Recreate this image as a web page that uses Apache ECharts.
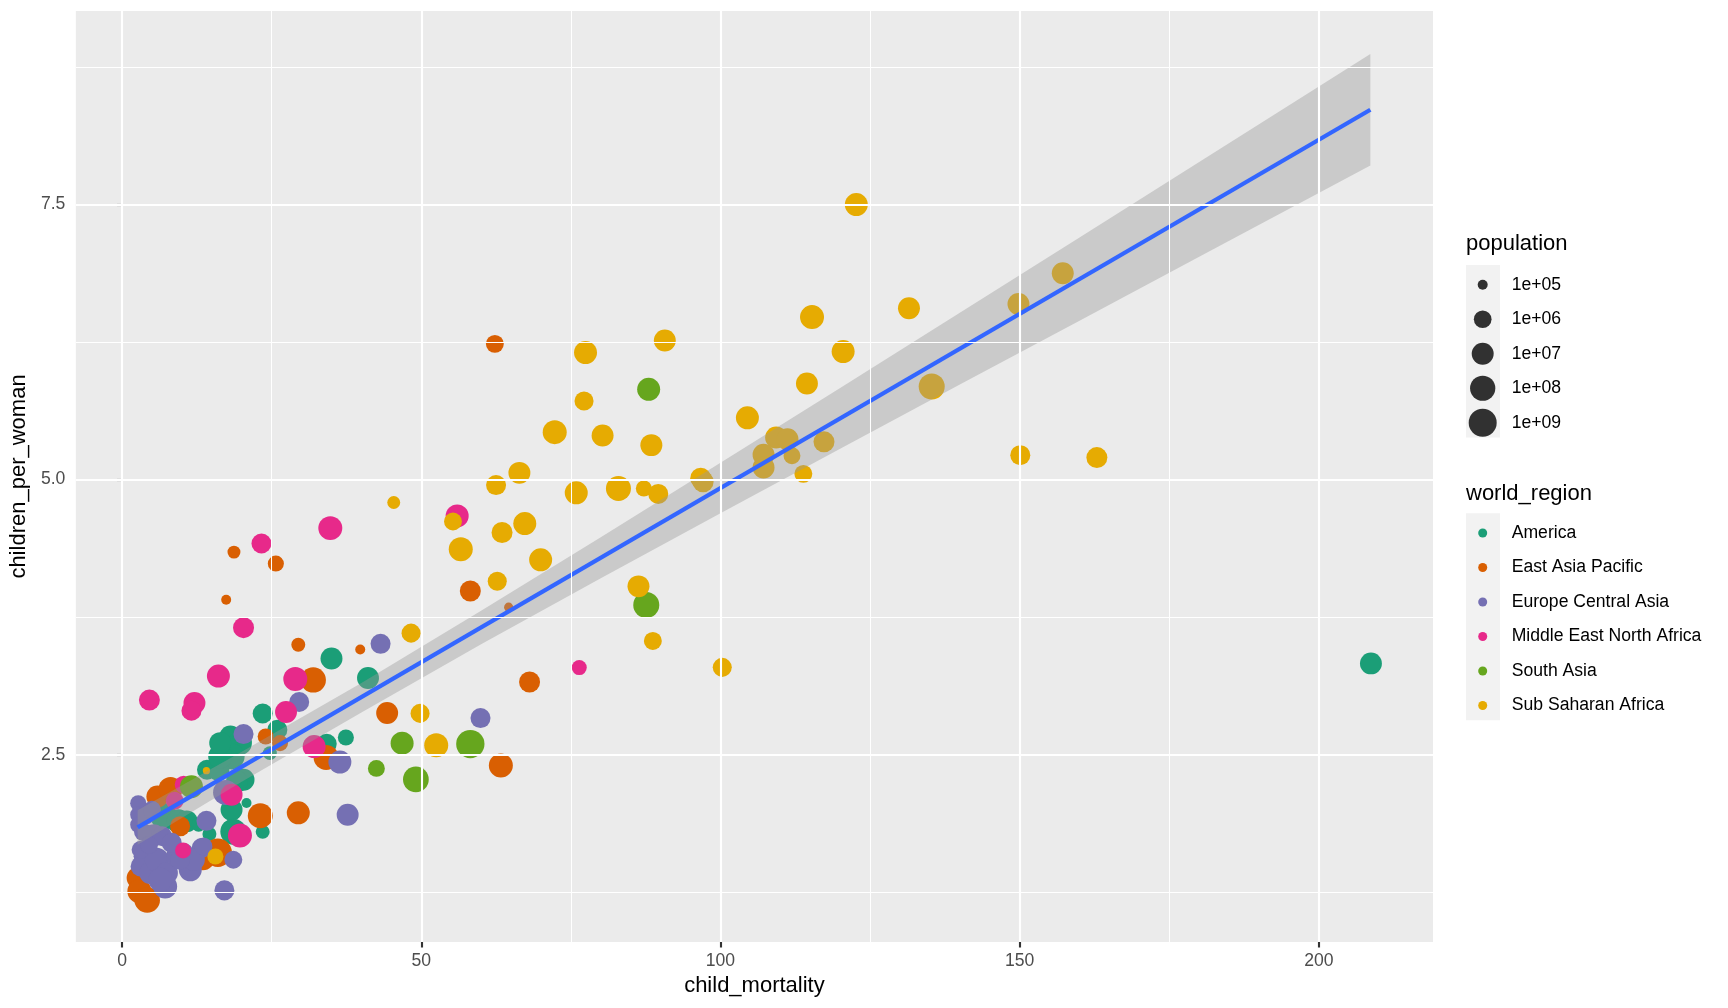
<!DOCTYPE html>
<html><head><meta charset="utf-8">
<script src="https://cdn.jsdelivr.net/npm/echarts@6/dist/echarts.min.js"></script>
<style>html,body{margin:0;padding:0;background:#fff}#c{width:1728px;height:1008px}</style>
</head><body><div id="c"></div><script>
// ---------- data ----------
const regions = ['America','East Asia Pacific','Europe Central Asia','Middle East North Africa','South Asia','Sub Saharan Africa'];
const regionColors = ['#1B9E77','#D95F02','#7570B3','#E7298A','#66A61E','#E6AB02'];

const americaX = [208.7,35.0,41.1,37.4,34.2,23.5,25.95,24.7,23.5,18.1,19.7,18.3,14.2,16.1,20.3,19.2,20.8,18.3,18.6,14.6,18.6,7.0,9.45,10.8,16.4,16.4,12.8,18.3];
const americaY = [3.33,3.375,3.197,2.657,2.60,2.875,2.727,2.515,1.80,2.666,2.606,2.485,2.364,2.364,2.273,2.258,2.061,2.0,1.8,1.78,1.53,1.94,1.895,1.895,2.485,2.606,1.864,1.82];
const americaPop = [1e7,1e7,1e7,5e5,3.2e6,3.2e6,3.2e6,2.4e5,2.4e5,1e7,4e7,1.9e8,3.2e6,1e7,1e7,1e7,1e5,1e7,1.9e8,2.4e5,1.4e5,3e8,4e7,1e7,4e7,1e7,2.4e5,3.2e6];

const eapX = [62.3,58.2,64.6,18.7,25.7,17.4,29.45,39.8,31.95,44.3,68.1,63.3,34.1,29.45,23.1,24.0,26.4,5.9,8.1,9.7,13.5,16.0,2.6,2.9,4.2];
const eapY = [6.233,3.988,3.841,4.341,4.237,3.908,3.499,3.457,3.18,2.879,3.161,2.403,2.476,1.973,1.946,2.666,2.606,2.12,2.19,1.85,1.56,1.61,1.38,1.26,1.18];
const eapPop = [1.1e6,5.6e6,9e4,1.8e5,5e5,1e5,2.4e5,1e5,1.1e8,1e7,5.6e6,4e7,8.5e7,2e7,8.5e7,5e5,5e5,1e7,4e7,3.2e6,4e7,1.4e9,1e7,4e7,1.3e8];

const ecaX = [43.2,59.9,36.4,37.7,29.6,14.1,17.3,20.3,17.1,18.6,2.7,2.7,2.7,5.3,6.7,3.6,3.1,4.7,5.8,7.2,7.5,9.2,11.4,10.3,13.3,12.0,3.1,6.4,9.7,13.6,4.0,3.5,5.0,8.3,4.5];
const ecaY = [3.508,2.833,2.434,1.955,2.979,1.90,2.158,2.688,1.268,1.546,2.06,1.955,1.864,1.77,1.76,1.577,1.486,1.426,1.546,1.304,1.426,1.577,1.455,1.607,1.653,1.546,1.637,1.365,1.546,1.667,1.95,1.80,2.0,1.70,1.68];
const ecaPop = [3.2e6,3.2e6,2e7,1e7,3.2e6,3.2e6,8.5e7,3.2e6,3.2e6,1.1e6,5e5,5e5,5e5,1e7,3.2e6,3.2e6,3.2e6,1e7,4e7,4e7,1e7,1e7,2e7,3.2e6,3.2e6,1e7,1.1e6,4e7,3.2e6,1.1e6,1.1e6,1.1e6,1.1e6,3.2e6,1.1e6];

const menaX = [56.0,34.8,23.3,20.3,16.1,4.57,12.1,11.6,28.95,27.4,32.1,19.7,18.3,10.3,8.8,10.2,76.4];
const menaY = [4.67,4.559,4.419,3.655,3.215,2.997,2.97,2.90,3.188,2.888,2.575,1.767,2.137,2.228,2.082,1.631,3.292];
const menaPop = [2e7,4e7,3.2e6,5.6e6,2e7,5.6e6,1e7,3.2e6,4e7,1e7,2e7,4e7,1e7,1.1e6,1.1e6,5e5,3.4e5];

const saX = [88.0,87.6,46.8,58.2,49.1,42.5,11.6];
const saY = [5.82,3.86,2.605,2.597,2.276,2.376,2.21];
const saPop = [2e7,1.9e8,2e7,1.3e9,1.5e8,7e5,2e7];

const ssaX = [122.7,157.2,149.8,131.5,115.3,120.5,90.7,77.45,114.45,135.3,104.5,77.2,72.3,80.3,88.45,109.3,111.2,117.3,107.2,107.2,111.95,113.85,150.1,162.9,96.7,97.1,66.4,62.5,75.9,82.95,87.2,89.6,55.3,63.5,67.3,56.6,69.95,62.7,86.3,88.7,100.3,45.4,48.3,49.8,52.5,14.1,15.6];
const ssaY = [7.498,6.875,6.596,6.557,6.476,6.163,6.263,6.154,5.873,5.845,5.561,5.713,5.431,5.40,5.313,5.382,5.367,5.343,5.225,5.11,5.216,5.052,5.222,5.2,5.013,4.98,5.061,4.95,4.88,4.919,4.919,4.87,4.619,4.519,4.6,4.368,4.271,4.076,4.03,3.534,3.294,4.792,3.605,2.876,2.586,2.355,1.576];
const ssaPop = [2e7,1e7,1e7,1e7,4e7,2e7,1e7,2e7,1e7,1.9e8,2e7,1.9e6,4e7,1e7,1e7,1e7,1e7,5.6e6,1e7,1e7,7e5,1.1e6,3.2e6,5.6e6,5.6e6,5.6e6,1e7,3.2e6,2e7,8.5e7,5e5,3.2e6,1.1e6,5.6e6,2e7,4e7,2e7,1.9e6,1e7,1.1e6,1.9e6,1.8e5,1.9e6,1.9e6,4e7,8e4,5e5];

const regionX = [americaX, eapX, ecaX, menaX, saX, ssaX];
const regionY = [americaY, eapY, ecaY, menaY, saY, ssaY];
const regionPop = [americaPop, eapPop, ecaPop, menaPop, saPop, ssaPop];

// linear fit line and its confidence band
const lineX = [2.6, 208.6];
const lineY = [1.84, 8.36];
const bandX = [2.6, 20, 40, 60, 80, 100, 120, 140, 160, 180, 208.6];
const bandLow = [1.683, 2.254, 2.885, 3.505, 4.104, 4.694, 5.280, 5.863, 6.444, 7.024, 7.853];
const bandHigh = [1.997, 2.528, 3.151, 3.809, 4.476, 5.152, 5.832, 6.515, 7.200, 7.886, 8.867];

// axes
const xTicks = [0, 50, 100, 150, 200];
const xMinor = [25, 75, 125, 175];
const yTicks = [2.5, 5.0, 7.5];
const yTickLabels = ['2.5', '5.0', '7.5'];
const yMinor = [1.25, 3.75, 6.25, 8.75];

// population legend
const sizeBreaks = [1e5, 1e6, 1e7, 1e8, 1e9];
const sizeLabels = ['1e+05', '1e+06', '1e+07', '1e+08', '1e+09'];

// ---------- chart ----------
const FONT = "'Liberation Sans', Arial, Helvetica, sans-serif";
function sizeOf(pop) {
  const t = Math.max(0, Math.min(1, (Math.log10(pop) - 4.9) / 4.25));
  return 4.35 * (1 + 5 * Math.sqrt(t)) + 2.3;
}

const PANEL = {left: 72, top: 11, width: 1361, height: 931};
const KEY_H = 34.5;
const LEG_SHIFT = 2.5;

const series = [];
// grid lines via markLine
const gridLines = [];
xTicks.forEach(v => gridLines.push({xAxis: v, lineStyle: {width: 2.13, color: '#ffffff', type: 'solid'}}));
xMinor.forEach(v => gridLines.push({xAxis: v, lineStyle: {width: 1.07, color: '#ffffff', type: 'solid'}}));
yTicks.forEach(v => gridLines.push({yAxis: v, lineStyle: {width: 2.13, color: '#ffffff', type: 'solid'}}));
yMinor.forEach(v => gridLines.push({yAxis: v, lineStyle: {width: 1.07, color: '#ffffff', type: 'solid'}}));
series.push({
  type: 'scatter', name: '__grid', data: [], z: 1, silent: true,
  markLine: {silent: true, symbol: ['none', 'none'], label: {show: false}, animation: false, data: gridLines}
});

regions.forEach((r, k) => {
  series.push({
    type: 'scatter', name: r, z: 2,
    symbol: 'circle',
    data: regionX[k].map((x, i) => [x, regionY[k][i], regionPop[k][i]]),
    symbolSize: v => sizeOf(v[2]),
    itemStyle: {color: regionColors[k], opacity: 1},
    emphasis: {disabled: true}
  });
});

sizeLabels.forEach((lab) => {
  series.push({type: 'scatter', name: lab, data: [], symbol: 'circle', itemStyle: {color: '#000000'}});
});

series.push({
  type: 'custom', name: '__band', z: 3, silent: true,
  data: [[bandX[0], bandLow[0]]],
  renderItem: (params, api) => {
    const pts = [];
    for (let i = 0; i < bandX.length; i++) pts.push(api.coord([bandX[i], bandHigh[i]]));
    for (let i = bandX.length - 1; i >= 0; i--) pts.push(api.coord([bandX[i], bandLow[i]]));
    return {type: 'polygon', shape: {points: pts}, style: {fill: 'rgba(153,153,153,0.4)'}};
  }
});
series.push({
  type: 'line', name: '__fit', z: 4, silent: true,
  data: lineX.map((x, i) => [x, lineY[i]]),
  showSymbol: false, symbol: 'none',
  lineStyle: {color: '#3366FF', width: 4.27}
});

const legends = [];
legends.push({
  data: regions, orient: 'vertical', left: 1478.2, top: 513.3 + LEG_SHIFT, padding: 0,
  itemWidth: 9, itemHeight: 9, itemGap: 0, selectedMode: false, icon: 'circle',
  textStyle: {fontSize: 17.6, lineHeight: KEY_H, color: '#000', fontFamily: FONT, padding: [0, 0, 0, 19.5]}
});
sizeBreaks.forEach((p, i) => {
  const d = sizeOf(p);
  legends.push({
    data: [sizeLabels[i]], orient: 'vertical', left: 1482.7 - d / 2, top: 265 + i * KEY_H + LEG_SHIFT, padding: 0,
    itemWidth: d, itemHeight: d, itemGap: 0, selectedMode: false, icon: 'circle',
    textStyle: {fontSize: 17.6, lineHeight: KEY_H, color: '#000', fontFamily: FONT, padding: [0, 0, 0, 24 - d / 2]}
  });
});

const option = {
  animation: false,
  backgroundColor: '#ffffff',
  textStyle: {fontFamily: FONT},
  grid: {left: PANEL.left, top: PANEL.top, width: PANEL.width, height: PANEL.height,
         show: true, backgroundColor: '#EBEBEB', borderWidth: 0},
  xAxis: {
    type: 'value', min: -7.72, max: 219.07,
    name: 'child_mortality', nameLocation: 'middle', nameGap: 31,
    nameTextStyle: {fontSize: 22, color: '#000', fontFamily: FONT},
    axisLine: {show: false}, splitLine: {show: false},
    axisTick: {show: true, length: 5.5, lineStyle: {color: '#333333', width: 2.13}, customValues: xTicks},
    axisLabel: {customValues: xTicks, fontSize: 17.6, color: '#4D4D4D', margin: 10, fontFamily: FONT}
  },
  yAxis: {
    type: 'value', min: 0.799, max: 9.257,
    name: 'children_per_woman', nameLocation: 'middle', nameGap: 41,
    nameTextStyle: {fontSize: 22, color: '#000', fontFamily: FONT},
    axisLine: {show: false}, splitLine: {show: false},
    axisTick: {show: true, length: 5.5, lineStyle: {color: '#333333', width: 2.13}, customValues: yTicks},
    axisLabel: {customValues: yTicks, fontSize: 17.6, color: '#4D4D4D', margin: 10.5, fontFamily: FONT,
      formatter: v => { const i = yTicks.findIndex(t => Math.abs(t - v) < 1e-6); return i >= 0 ? yTickLabels[i] : ''; }}
  },
  legend: legends,
  graphic: [
    {type: 'rect', left: 1466, top: 265, shape: {width: 34, height: 5 * KEY_H}, style: {fill: '#F2F2F2'}, silent: true},
    {type: 'rect', left: 1466, top: 513.3, shape: {width: 34, height: 6 * KEY_H}, style: {fill: '#F2F2F2'}, silent: true},
    {type: 'text', left: 1466, top: 233, style: {text: 'population', fontSize: 22, fill: '#000', font: '22px ' + FONT}},
    {type: 'text', left: 1466, top: 483, style: {text: 'world_region', fontSize: 22, fill: '#000', font: '22px ' + FONT}}
  ],
  series: series
};

const chart = echarts.init(document.getElementById('c'), null, {renderer: 'canvas'});
chart.setOption(option);
</script></body></html>
